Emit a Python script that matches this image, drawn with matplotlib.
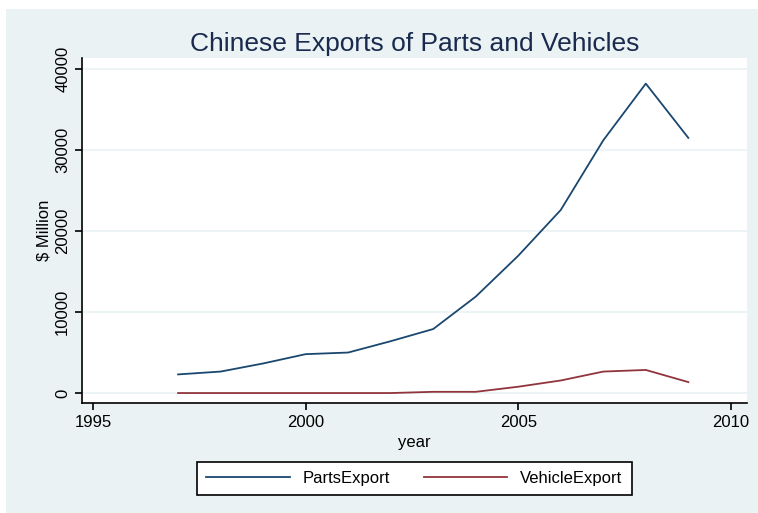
import matplotlib
matplotlib.use("Agg")
import matplotlib.pyplot as plt
from matplotlib.patches import Rectangle

plt.rcParams['font.family'] = ['Liberation Sans', 'DejaVu Sans']

# data ($ million)
years = [1997, 1998, 1999, 2000, 2001, 2002, 2003, 2004, 2005, 2006, 2007, 2008, 2009]
parts_export = [2300, 2650, 3650, 4800, 5000, 6400, 7900, 11900, 16950, 22600, 31200, 38200, 31500]
vehicle_export = [0, 0, 0, 0, 0, 0, 150, 150, 780, 1550, 2650, 2850, 1350]

x_ticks = [1995, 2000, 2005, 2010]
y_ticks = [0, 10000, 20000, 30000, 40000]

bg = '#eaf2f3'
navy = '#1a476f'
maroon = '#90353b'

fig = plt.figure(figsize=(7.58, 5.13), dpi=100, facecolor='white')
# stata graph region (light blue), small white margin at top/left
fig.patches.append(Rectangle((6 / 758, 0), 1, (513 - 9) / 513,
                             transform=fig.transFigure, facecolor=bg,
                             edgecolor='none', zorder=-10))

ax = fig.add_axes([82 / 758, (513 - 403) / 513, (747 - 82) / 758, (403 - 58) / 513])
ax.set_facecolor('white')

ax.plot(years, parts_export, color=navy, lw=1.3, label='PartsExport')
ax.plot(years, vehicle_export, color=maroon, lw=1.3, label='VehicleExport')

ax.set_xlim(1994.74, 2010.38)
ax.set_ylim(-1230, 41360)
ax.set_xticks(x_ticks)
ax.set_yticks(y_ticks)
ax.grid(axis='y', color=bg, lw=1.2)
ax.set_axisbelow(True)

for s in ['top', 'right']:
    ax.spines[s].set_visible(False)
for s in ['left', 'bottom']:
    ax.spines[s].set_linewidth(1.2)
    ax.spines[s].set_color('black')

ax.tick_params(direction='out', length=5, width=1.2, labelsize=12)
for lab in ax.get_yticklabels():
    lab.set_rotation(90)
    lab.set_va('center')

ax.set_xlabel('year', fontsize=12, labelpad=4)
ax.set_ylabel('$ Million', fontsize=12, labelpad=3)
ax.set_title('Chinese Exports of Parts and Vehicles', fontsize=19,
             color='#1a2a4f', pad=5)

leg = ax.legend(loc='upper center', bbox_to_anchor=(0.5, -0.171), ncol=2,
                frameon=True, fancybox=False, framealpha=1, fontsize=12,
                handlelength=5.0, columnspacing=2.0, borderpad=0.55,
                handletextpad=0.8, borderaxespad=0)
leg.get_frame().set_edgecolor('black')
leg.get_frame().set_facecolor('white')
leg.get_frame().set_linewidth(1.2)

fig.savefig('out.png', dpi=100, facecolor=fig.get_facecolor())
